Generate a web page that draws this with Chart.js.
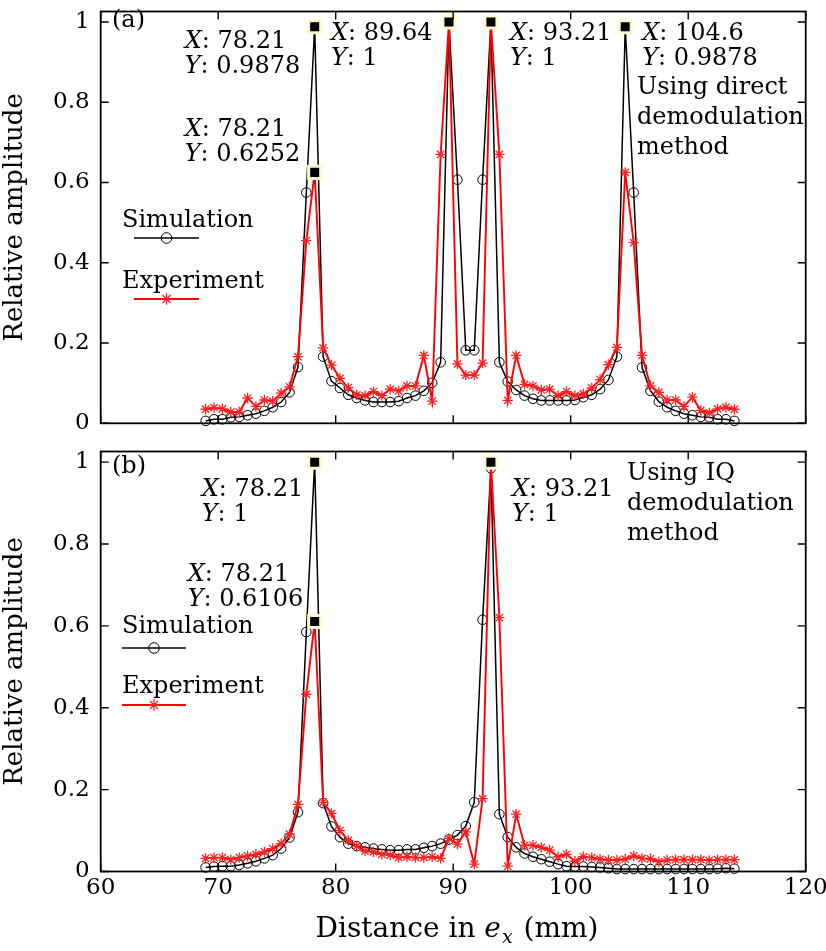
<!DOCTYPE html>
<html><head><meta charset="utf-8">
<script src="https://cdn.jsdelivr.net/npm/chart.js@4/dist/chart.umd.min.js"></script>
<style>
html,body{margin:0;padding:0;background:#fff;}
#wrap{position:relative;width:826px;height:951px;overflow:hidden;}
canvas{position:absolute;left:0;}
</style></head><body>
<div id="wrap">
<canvas id="ca" style="top:0px;width:826px;height:440px"></canvas>
<canvas id="cb" style="top:440px;width:826px;height:511px"></canvas>
</div>
<script>
// ---------------- data ----------------
const distance = [68.93, 69.64, 70.36, 71.07, 71.79, 72.50, 73.21, 73.93, 74.64, 75.36, 76.07, 76.79, 77.50, 78.21, 78.93, 79.64,
  80.36, 81.07, 81.79, 82.50, 83.21, 83.93, 84.64, 85.36, 86.07, 86.79, 87.50, 88.21, 88.93, 89.64, 90.36, 91.07,
  91.79, 92.50, 93.21, 93.93, 94.64, 95.36, 96.07, 96.79, 97.50, 98.21, 98.93, 99.64, 100.36, 101.07, 101.79, 102.50,
  103.21, 103.93, 104.64, 105.36, 106.07, 106.79, 107.50, 108.21, 108.93, 109.64, 110.36, 111.07, 111.79, 112.50, 113.21, 113.93];

const simA = [0.006, 0.010, 0.010, 0.015, 0.016, 0.020, 0.024, 0.031, 0.040, 0.053, 0.077, 0.140, 0.575, 0.9878, 0.166, 0.105,
  0.088, 0.071, 0.063, 0.057, 0.053, 0.053, 0.053, 0.055, 0.063, 0.069, 0.081, 0.101, 0.152, 1.0, 0.607, 0.182,
  0.182, 0.607, 1.0, 0.152, 0.104, 0.083, 0.069, 0.061, 0.057, 0.057, 0.057, 0.057, 0.058, 0.065, 0.071, 0.085,
  0.108, 0.166, 0.9878, 0.575, 0.139, 0.081, 0.054, 0.040, 0.031, 0.024, 0.020, 0.016, 0.015, 0.010, 0.010, 0.006];

const expA = [0.035, 0.039, 0.036, 0.028, 0.028, 0.063, 0.042, 0.058, 0.055, 0.075, 0.091, 0.166, 0.455, 0.6252, 0.188, 0.145,
  0.112, 0.089, 0.071, 0.069, 0.079, 0.069, 0.085, 0.081, 0.093, 0.093, 0.169, 0.055, 0.670, 1.0, 0.148, 0.120,
  0.120, 0.150, 1.0, 0.670, 0.057, 0.169, 0.097, 0.093, 0.083, 0.085, 0.069, 0.079, 0.069, 0.073, 0.088, 0.109,
  0.146, 0.189, 0.6252, 0.450, 0.169, 0.093, 0.077, 0.058, 0.058, 0.042, 0.065, 0.032, 0.026, 0.036, 0.040, 0.035];

const simB = [0.010, 0.012, 0.013, 0.013, 0.016, 0.020, 0.025, 0.032, 0.040, 0.056, 0.083, 0.145, 0.585, 1.0, 0.167, 0.110,
  0.084, 0.068, 0.062, 0.059, 0.056, 0.054, 0.052, 0.052, 0.054, 0.054, 0.058, 0.062, 0.068, 0.078, 0.089, 0.111,
  0.169, 0.615, 0.985, 0.140, 0.084, 0.059, 0.044, 0.036, 0.030, 0.024, 0.018, 0.013, 0.012, 0.012, 0.011, 0.010,
  0.008, 0.006, 0.006, 0.006, 0.006, 0.006, 0.006, 0.006, 0.006, 0.006, 0.006, 0.006, 0.006, 0.007, 0.008, 0.007];

const expB = [0.032, 0.034, 0.034, 0.029, 0.034, 0.038, 0.042, 0.048, 0.056, 0.068, 0.091, 0.164, 0.433, 0.6106, 0.169, 0.142,
  0.100, 0.076, 0.062, 0.050, 0.048, 0.042, 0.040, 0.034, 0.036, 0.034, 0.034, 0.036, 0.032, 0.081, 0.067, 0.097,
  0.018, 0.178, 1.0, 0.620, 0.013, 0.140, 0.064, 0.064, 0.059, 0.052, 0.036, 0.042, 0.025, 0.036, 0.034, 0.030,
  0.028, 0.028, 0.030, 0.038, 0.032, 0.031, 0.024, 0.028, 0.029, 0.029, 0.029, 0.029, 0.027, 0.029, 0.029, 0.029];

const tipXA = [78.21, 78.21, 89.64, 93.21, 104.64];
const tipYA = [0.9878, 0.6252, 1, 1, 0.9878];
const tipTextXA = ['78.21', '78.21', '89.64', '93.21', '104.6'];
const tipTextYA = ['0.9878', '0.6252', '1', '1', '0.9878'];
const tipXB = [78.21, 78.21, 93.21];
const tipYB = [1, 0.6106, 1];
const tipTextXB = ['78.21', '78.21', '93.21'];
const tipTextYB = ['1', '0.6106', '1'];

const xTicks = [60, 70, 80, 90, 100, 110, 120];
const yTicks = [0, 0.2, 0.4, 0.6, 0.8, 1];
const yTickLabels = ['0', '0.2', '0.4', '0.6', '0.8', '1'];
const seriesNames = ['Simulation', 'Experiment'];
const yTitle = 'Relative amplitude';
const panelNames = ['(a)', '(b)'];
const methodA = ['Using direct', 'demodulation', 'method'];
const methodB = ['Using IQ', 'demodulation', 'method'];

// ---------------- layout / style ----------------
const FONT = "'DejaVu Serif', serif";
const W = 826;
const PLOT_LEFT = 100.7, PLOT_RIGHT = 805.7;
const YMAX = 1.026;

const layoutA = {
  height: 440, plotTop: 1.7, plotBottom: 423.3, showX: false,
  annot: [{dx: -130, dy: 20.7}, {dx: -130, dy: -36.3}, {dx: -118, dy: 17.7}, {dx: 19, dy: 17.7}, {dx: 17, dy: 12.7}],
  panel: {x: 112, y: 27},
  method: {x: 637, y: 94, gap: 30},
  legend: {tx: 122, simText: 227, simLine: 238, expText: 288, expLine: 299, x0: 134, x1: 199}
};
const layoutB = {
  height: 511, plotTop: 8.3, plotBottom: 431.5, showX: true, xTitleY: 497,
  annot: [{dx: -113, dy: 33.7}, {dx: -127, dy: -40.8}, {dx: 21, dy: 33.7}],
  panel: {x: 112, y: 33},
  method: {x: 627, y: 40, gap: 30},
  legend: {tx: 122, simText: 193, simLine: 208, expText: 253, expLine: 265, x0: 122, x1: 186}
};

function drawRich(ctx, parts, x, y, size) {
  let cx = x;
  parts.forEach(p => {
    ctx.font = (p.it ? 'italic ' : '') + (p.size || size) + 'px ' + FONT;
    ctx.fillText(p.t, cx, y + (p.dy || 0));
    cx += ctx.measureText(p.t).width + (p.after || 0);
  });
  return cx;
}

function makeDecor(L, tipX, tipY, tipTX, tipTY, panelName, method) {
  return {
    id: 'decor',
    afterDraw(chart) {
      const {ctx, chartArea: a, scales: {x, y}} = chart;
      ctx.save();
      // frame + inward ticks
      ctx.strokeStyle = '#000';
      ctx.lineWidth = 1.8;
      ctx.strokeRect(a.left, a.top, a.right - a.left, a.bottom - a.top);
      ctx.lineWidth = 1.4;
      ctx.beginPath();
      xTicks.forEach(v => {
        const px = x.getPixelForValue(v);
        ctx.moveTo(px, a.bottom); ctx.lineTo(px, a.bottom - 8);
        ctx.moveTo(px, a.top); ctx.lineTo(px, a.top + 8);
      });
      yTicks.forEach(v => {
        const py = y.getPixelForValue(v);
        ctx.moveTo(a.left, py); ctx.lineTo(a.left + 8, py);
        ctx.moveTo(a.right, py); ctx.lineTo(a.right - 8, py);
      });
      ctx.stroke();

      ctx.fillStyle = '#000';
      ctx.textBaseline = 'alphabetic';
      ctx.textAlign = 'left';
      // datatip annotations
      tipX.forEach((tx, i) => {
        const px = x.getPixelForValue(tx), py = y.getPixelForValue(tipY[i]);
        const o = L.annot[i];
        drawRich(ctx, [{t: 'X', it: true}, {t: ': ' + tipTX[i]}], px + o.dx, py + o.dy, 24);
        drawRich(ctx, [{t: 'Y', it: true}, {t: ': ' + tipTY[i]}], px + o.dx, py + o.dy + 25, 24);
      });
      // panel label
      ctx.font = '24px ' + FONT;
      ctx.fillText(panelName, L.panel.x, L.panel.y);
      // method text
      method.forEach((s, i) => ctx.fillText(s, L.method.x, L.method.y + i * L.method.gap));
      // legend
      const g = L.legend;
      const ds = chart.data.datasets;
      ctx.fillText(ds[0].label, g.tx, g.simText);
      ctx.fillText(ds[1].label, g.tx, g.expText);
      [[ds[0], g.simLine], [ds[1], g.expLine]].forEach(([d, ly]) => {
        ctx.strokeStyle = d.borderColor; ctx.lineWidth = d.borderWidth;
        ctx.beginPath(); ctx.moveTo(g.x0, ly); ctx.lineTo(g.x1, ly); ctx.stroke();
        ctx.strokeStyle = d.pointBorderColor; ctx.fillStyle = d.pointBackgroundColor || 'rgba(0,0,0,0)';
        ctx.lineWidth = d.pointBorderWidth;
        Chart.helpers.drawPoint(ctx, {pointStyle: d.pointStyle, radius: d.pointRadius + 0.5, borderWidth: d.pointBorderWidth, rotation: 0}, (g.x0 + g.x1) / 2, ly);
      });
      // x-axis title
      if (L.showX) {
        ctx.fillStyle = '#000';
        const parts = [{t: 'Distance in '}, {t: 'e', it: true, after: 1}, {t: 'x', it: true, size: 19, dy: 6, after: 2}, {t: ' (mm)'}];
        let w = 0;
        parts.forEach(p => { ctx.font = (p.it ? 'italic ' : '') + (p.size || 28) + 'px ' + FONT; w += ctx.measureText(p.t).width + (p.after || 0); });
        const cx = 457;
        drawRich(ctx, parts, cx - w / 2, L.xTitleY, 28);
      }
      ctx.restore();
    }
  };
}

function build(id, L, sim, exp, tipX, tipY, tipTX, tipTY, panelName, method) {
  const cv = document.getElementById(id);
  cv.width = W; cv.height = L.height;
  const toPts = arr => distance.map((d, i) => ({x: d, y: arr[i]}));
  return new Chart(cv, {
    type: 'line',
    data: {
      datasets: [
        {label: seriesNames[0], data: toPts(sim), borderColor: '#000', borderWidth: 1.5, pointStyle: 'circle',
         pointRadius: 4.8, pointBorderColor: '#000', pointBorderWidth: 1, pointBackgroundColor: 'rgba(0,0,0,0)',
         order: 2, clip: false, tension: 0},
        {label: seriesNames[1], data: toPts(exp), borderColor: '#ff0000', borderWidth: 1.9, pointStyle: 'star',
         pointRadius: 5.2, pointBorderColor: '#ff2020', pointBorderWidth: 1.3, pointBackgroundColor: 'rgba(0,0,0,0)',
         order: 1, clip: false, tension: 0},
        {label: 'tips', data: tipX.map((v, i) => ({x: v, y: tipY[i]})), showLine: false, pointStyle: 'rect',
         pointRadius: 8.5, pointBackgroundColor: '#000', pointBorderColor: '#fdf9cf', pointBorderWidth: 3,
         order: 0, clip: false}
      ]
    },
    options: {
      responsive: false, animation: false, devicePixelRatio: 1, events: [],
      layout: {padding: {left: 0, right: W - PLOT_RIGHT, top: L.plotTop, bottom: 0}},
      plugins: {legend: {display: false}, tooltip: {enabled: false}},
      scales: {
        x: {
          type: 'linear', min: 60, max: 120,
          grid: {display: false, drawTicks: false, tickLength: 0},
          border: {display: false},
          afterBuildTicks: s => { s.ticks = xTicks.map(v => ({value: v})); },
          ticks: {display: L.showX, autoSkip: false, maxRotation: 0, padding: 3, color: '#000',
                  font: {family: FONT, size: 23}, callback: v => String(v)},
          afterFit: s => { s.height = L.height - L.plotBottom; s.paddingLeft = 0; s.paddingRight = 0; }
        },
        y: {
          type: 'linear', min: 0, max: YMAX,
          grid: {display: false, drawTicks: false, tickLength: 0},
          border: {display: false},
          afterBuildTicks: s => { s.ticks = yTicks.map(v => ({value: v})); },
          ticks: {autoSkip: false, padding: 11, color: '#000', font: {family: FONT, size: 23},
                  callback: (v, i) => yTickLabels[i]},
          title: {display: true, text: yTitle, color: '#000', font: {family: FONT, size: 26}, padding: 0},
          afterFit: s => { s.width = PLOT_LEFT; s.paddingTop = 0; s.paddingBottom = 0; }
        }
      }
    },
    plugins: [makeDecor(L, tipX, tipY, tipTX, tipTY, panelName, method)]
  });
}

build('ca', layoutA, simA, expA, tipXA, tipYA, tipTextXA, tipTextYA, panelNames[0], methodA);
build('cb', layoutB, simB, expB, tipXB, tipYB, tipTextXB, tipTextYB, panelNames[1], methodB);
</script>
</body></html>
